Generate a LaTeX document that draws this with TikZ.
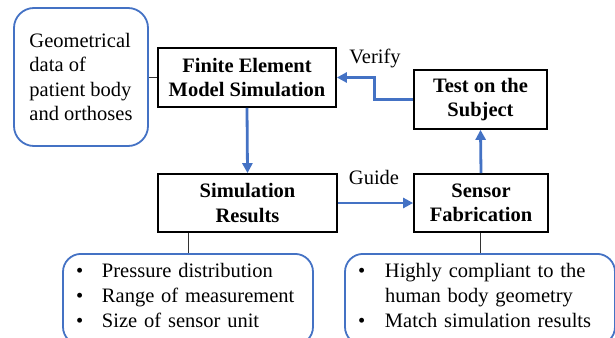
\documentclass[tikz,border=0pt]{standalone}
\usepackage{fontspec}
\setmainfont{Liberation Serif}
\usepackage{xcolor}
\usetikzlibrary{positioning, arrows.meta, calc}
\definecolor{flowblue}{RGB}{68,114,196}

\begin{document}
\begin{tikzpicture}[
  x=1pt, y=-1pt,
  every node/.style={font=\fontsize{20.5}{25}\selectfont},
  block/.style={draw, line width=1.7pt, align=center, inner sep=0pt, font=\fontsize{20.5}{24.5}\selectfont\bfseries},
  infobox/.style={draw=flowblue, line width=1.8pt, rounded corners=18pt, align=left, inner xsep=13pt, inner ysep=6pt},
  flow/.style={-{Triangle[length=10pt,width=10pt]}, line width=2.8pt, flowblue},
  link/.style={line width=0.9pt, black!80}
]
\useasboundingbox (0,0) rectangle (615,337);
\clip (0,0) rectangle (615,337);

% Input data
\node[infobox, rounded corners=20pt, minimum width=134pt, minimum height=138pt, font=\fontsize{20.5}{24.5}\selectfont]
  (geom) at (81,77) {Geometrical\\data of\\patient body\\and orthoses};

% Main steps
\node[block, minimum width=178pt, minimum height=59pt] (fem) at (247,77.5) {Finite Element\\Model Simulation};
\node[block, minimum width=179pt, minimum height=58pt] (sim) at (247.5,203) {Simulation\\Results};
\node[block, minimum width=134pt, minimum height=58pt] (sensor) at (481,203) {Sensor\\Fabrication};
\node[block, minimum width=133pt, minimum height=59pt] (test) at (480.5,99.5) {Test on the\\Subject};

% Details
\node[infobox, anchor=north, text width=224pt] (reslist) at (188,253) {%
  \begin{tabular}{@{}p{26pt}@{}l@{}}
  \textbullet & Pressure distribution\\
  \textbullet & Range of measurement\\
  \textbullet & Size of sensor unit\\[4pt]
  \end{tabular}};
\node[infobox, anchor=north, text width=244pt] (fablist) at (480,253) {%
  \begin{tabular}{@{}p{27pt}@{}l@{}}
  \textbullet & Highly compliant to the\\
              & human body geometry\\
  \textbullet & Match simulation results\\[4pt]
  \end{tabular}};

% Arrows
\draw[link] (geom.east) -- (geom.east -| fem.west);
\draw[flow] (fem.south) -- (sim.north);
\draw[flow] (sim.east) -- (sensor.west);
\draw[flow] (sensor.north) -- (test.south);
\draw[flow] (test.west) -- ++(-39,0) |- (fem.east);
\draw[link] (reslist.north) -- (reslist.north |- sim.south);
\draw[link] (fablist.north) -- (fablist.north |- sensor.south);

% Labels
\node (verify) at (375,58) {Verify};
\node (guide) at (374,177) {Guide};

\end{tikzpicture}
\end{document}
